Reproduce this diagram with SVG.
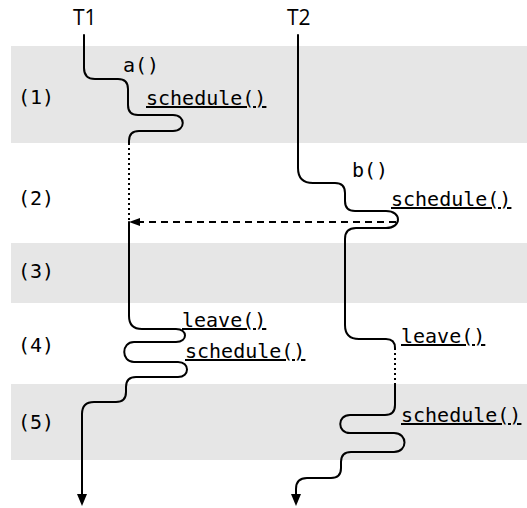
<svg xmlns="http://www.w3.org/2000/svg" width="527" height="508" viewBox="0 0 527 508">
<style>
.band{fill:#e6e6e6}
.mono{font-family:"DejaVu Sans Mono","Liberation Mono",monospace;font-size:20px;fill:#000}
.ul{text-decoration:underline}
.title{font-family:"Open Sans","Liberation Sans",sans-serif;font-size:21px;fill:#000}
.thr{fill:none;stroke:#000;stroke-width:2;stroke-linecap:round;stroke-linejoin:round}
.dot{fill:none;stroke:#000;stroke-width:2;stroke-dasharray:2 3}
.dash{fill:none;stroke:#000;stroke-width:2;stroke-dasharray:7 5}
</style>
<defs>
<marker id="ah" markerUnits="userSpaceOnUse" viewBox="0 0 12 10" refX="0" refY="5" markerWidth="12" markerHeight="10" orient="auto"><path d="M0,0 L12,5 L0,10 z" fill="#000"/></marker>
<marker id="ahs" markerUnits="userSpaceOnUse" viewBox="0 0 11 8" refX="0" refY="4" markerWidth="11" markerHeight="8" orient="auto"><path d="M0,0 L11,4 L0,8 z" fill="#000"/></marker>
</defs>
<g id="bands">
<rect class="band" x="11" y="46" width="516" height="97"/>
<rect class="band" x="11" y="243" width="516" height="60"/>
<rect class="band" x="11" y="384" width="516" height="76"/>
</g>
<g id="phases">
<text class="mono" x="18" y="104">(1)</text>
<text class="mono" x="18" y="205">(2)</text>
<text class="mono" x="18" y="278">(3)</text>
<text class="mono" x="18" y="352">(4)</text>
<text class="mono" x="18" y="429">(5)</text>
</g>
<g id="T1">
<text class="title" x="73" y="25">T1</text>
<path class="thr" d="M84 35 L84 68 Q84 79 95 79 L118 79 Q128 79 128 89 L128 105 Q128 115 138 115 L173 115 C186 115 186 131 173 131 L139 131 Q129 131 129 141 L129 143"/>
<path class="dot" d="M129 143 L129 222"/>
<path class="thr" marker-end="url(#ah)" d="M129 222 L129 316 Q129 329 142 329 L176 329 C188 329 188 342 176 342 L134 342 C121 342 121 362 134 362 L178 362 C190 362 190 377 178 377 L136 377 Q126 377 126 387 L126 392 Q126 402 116 402 L94 402 Q82 402 82 414 L82 494"/>
<text class="mono" x="123" y="72">a()</text>
<text class="mono ul" x="146" y="105">schedule()</text>
<text class="mono ul" x="182" y="327">leave()</text>
<text class="mono ul" x="185" y="358">schedule()</text>
</g>
<g id="T2">
<text class="title" x="287" y="25">T2</text>
<path class="thr" d="M298 35 L298 168 Q298 183 313 183 L335 183 Q345 183 345 193 L345 201 Q345 211 355 211 L386 211 C402 211 402 228 386 228 L356 228 Q345 228 345 239 L345 325 Q345 339 359 339 L386 339 Q395 339 395 348"/>
<path class="dot" d="M395 348 L395 384"/>
<path class="thr" marker-end="url(#ah)" d="M395 384 L395 405 Q395 415 385 415 L350 415 C337 415 337 433 350 433 L394 433 C408 433 408 452 394 452 L351 452 Q341 452 341 462 L341 468 Q341 478 331 478 L307 478 Q296 478 296 489 L296 494"/>
<text class="mono" x="352" y="177">b()</text>
<text class="mono ul" x="391" y="206">schedule()</text>
<text class="mono ul" x="401" y="343">leave()</text>
<text class="mono ul" x="401" y="422">schedule()</text>
</g>
<g id="connectors">
<path class="dash" marker-end="url(#ahs)" d="M396 222 L140 222"/>
</g>
</svg>
